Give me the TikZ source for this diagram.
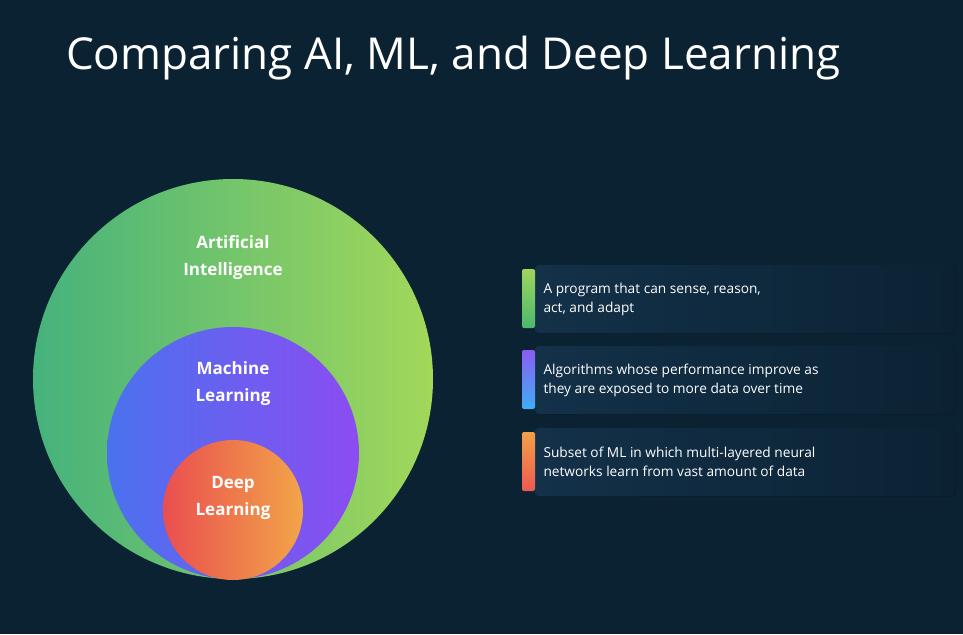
\documentclass[tikz,border=0pt]{standalone}
\usepackage{fontspec}
\setmainfont{Open Sans}
\usetikzlibrary{shadings}
\definecolor{bg}{HTML}{0B2233}
\definecolor{boxc}{HTML}{133149}
\definecolor{aiA}{HTML}{45B27C}\definecolor{aiB}{HTML}{A2D85A}
\definecolor{mlA}{HTML}{4A72EE}\definecolor{mlB}{HTML}{8C4CF2}
\definecolor{dlA}{HTML}{EA4E50}\definecolor{dlB}{HTML}{F2A548}
\definecolor{b1A}{HTML}{9ED65E}\definecolor{b1B}{HTML}{4DB86C}
\definecolor{b2A}{HTML}{8A5CF2}\definecolor{b2B}{HTML}{3FAEF5}
\definecolor{b3A}{HTML}{F2A04A}\definecolor{b3B}{HTML}{EC5A50}
\tikzset{x=1pt,y=-1pt,
 lbl/.style={text=white,font=\fontsize{17}{27}\selectfont\bfseries,align=center},
 desc/.style={text=white,font=\fontsize{13.7}{19}\selectfont,align=left,anchor=west},
 card/.style={rounded corners=3pt,left color=boxc,right color=bg},
 bar/.style={rounded corners=2pt}}
\begin{document}
\begin{tikzpicture}
\fill[bg] (0,0) rectangle (963,634);
\useasboundingbox (0,0) rectangle (963,634);
\node[anchor=base west,text=white,font=\fontsize{44}{50}\selectfont,inner sep=0] (title) at (66,70) {Comparing AI, ML, and Deep Learning};
\shade[shading angle=135,left color=aiA,right color=aiB] (233,379) circle (200);
\shade[shading angle=90,left color=mlA,right color=mlB] (233,453) circle (126);
\shade[shading angle=90,left color=dlA,right color=dlB] (233,510) circle (70);
\node[lbl] (ai) at (233,258) {Artificial\\Intelligence};
\node[lbl] (ml) at (233,384) {Machine\\Learning};
\node[lbl] (dl) at (233,498) {Deep\\Learning};
\foreach \y/\ca/\cb/\n in {265/b1A/b1B/1,346/b2A/b2B/2,428/b3A/b3B/3}{
 \fill[card] (535,\y) rectangle (955,\y+68);
 \shade[bar,top color=\ca,bottom color=\cb] (522,\y+4) rectangle (535,\y+63);
}
\node[desc] (d1) at (540,299) {A program that can sense, reason,\\act, and adapt};
\node[desc] (d2) at (540,380) {Algorithms whose performance improve as\\they are exposed to more data over time};
\node[desc] (d3) at (540,462) {Subset of ML in which multi-layered neural\\networks learn from vast amount of data};
\end{tikzpicture}
\end{document}
